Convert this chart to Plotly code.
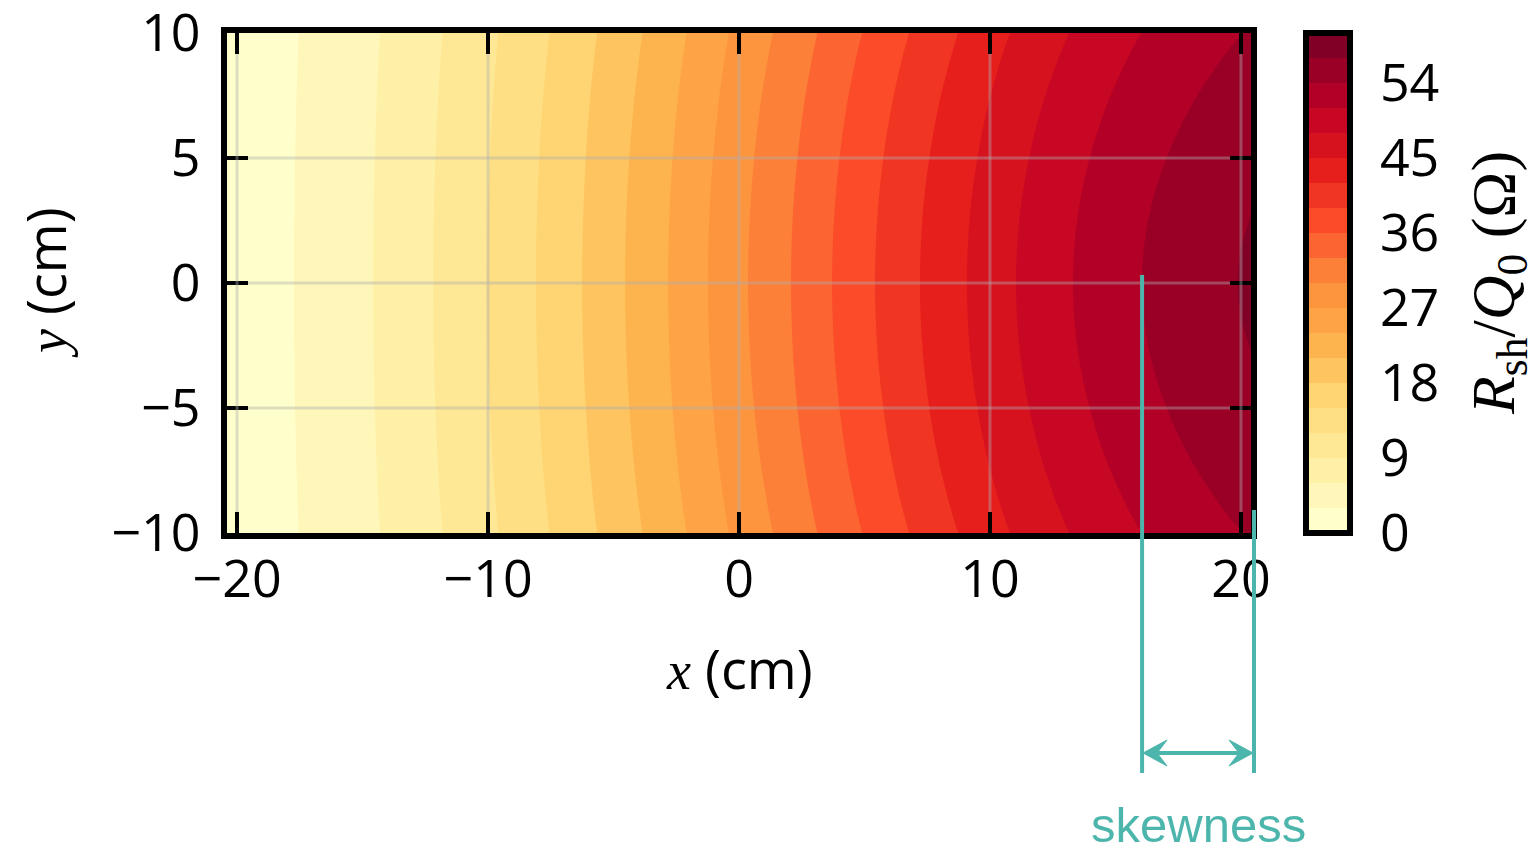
import numpy as np
import plotly.graph_objects as go
from plotly.colors import sample_colorscale

# ---- data ----
# x positions (cm) along y = 0 where Rsh/Q0 crosses each 3-ohm level (plus the two plot edges)
x_cm = [-20.4, -17.73, -14.58, -12.19, -10.04, -8.09, -6.25, -4.54, -2.83, -1.24,
        0.36, 2.07, 3.71, 5.42, 7.21, 9.08, 11.04, 13.31, 16.06, 19.88, 20.4]
# Rsh/Q0 (ohm) at those positions along y = 0
rsh_center = [0.9, 3, 6, 9, 12, 15, 18, 21, 24, 27,
              30, 33, 36, 39, 42, 45, 48, 51, 54, 57, 57.25]
y_cm = [-10, -9, -7, -5, -3, -1, 1, 3, 5, 7, 9, 10]
y_falloff = [0.945, 0.9555, 0.973, 0.986, 0.995, 0.9995,
             0.9995, 0.995, 0.986, 0.973, 0.9555, 0.945]

x_ticks = [-20, -10, 0, 10, 20]
y_ticks = [-10, -5, 0, 5, 10]
grid_x = [-20, -10, 0, 10, 20]
grid_y = [-5, 0, 5]
cbar_ticks = [0, 9, 18, 27, 36, 45, 54]
cbar_range = [0, 60]
level_start, level_end, level_step = 3, 57, 3
skew_level = 54
annot_text = "skewness"

z = np.outer(y_falloff, rsh_center)

# ---- layout geometry ----
FIG_W, FIG_H = 1539, 847
L, T, W, H = 227, 33, 1024, 500
X_RANGE = [-20.4, 20.4]
Y_RANGE = [-10, 10]
TEAL = "#4db6ac"
SANS = "Open Sans"
SERIF = "Liberation Serif"
CB_LEFT, CB_THICK = 1306, 44


def pxx(px):
    return (px - L) / W


def pxy(py):
    return (T + H - py) / H


def datax(x):
    return (x - X_RANGE[0]) / (X_RANGE[1] - X_RANGE[0])


colorscale = [[0.0, "#ffffcc"], [0.125, "#ffeda0"], [0.25, "#fed976"],
              [0.375, "#feb24c"], [0.5, "#fd8d3c"], [0.625, "#fc4e2a"],
              [0.75, "#e31a1c"], [0.875, "#bd0026"], [1.0, "#800026"]]

# stepped scale for the colour bar: one band per contour interval
n_bands = int(round((cbar_range[1] - cbar_range[0]) / level_step))
band_colors = sample_colorscale(colorscale, [k / (n_bands - 1) for k in range(n_bands)])
stepped = []
for k, c in enumerate(band_colors):
    stepped.append([k / n_bands, c])
    stepped.append([(k + 1) / n_bands, c])

fig = go.Figure()
fig.add_trace(go.Contour(
    x=x_cm, y=y_cm, z=z.tolist(),
    autocontour=False,
    contours=dict(start=level_start, end=level_end, size=level_step,
                  coloring="fill", showlines=False),
    line=dict(width=0),
    colorscale=colorscale,
    showscale=False,
    hoverinfo="skip",
))

fig.add_trace(go.Scatter(
    x=[None], y=[None], mode="markers", hoverinfo="skip", showlegend=False,
    marker=dict(
        color=[cbar_range[0]], cmin=cbar_range[0], cmax=cbar_range[1],
        colorscale=stepped, showscale=True,
        colorbar=dict(
            thickness=CB_THICK, thicknessmode="pixels",
            len=H, lenmode="pixels",
            x=pxx(CB_LEFT), xanchor="left", y=0.5, yanchor="middle",
            xpad=0, ypad=0,
            outlinewidth=6, outlinecolor="black",
            tickmode="array", tickvals=cbar_ticks,
            ticks="outside", ticklen=17, tickwidth=1, tickcolor="rgba(0,0,0,0)",
            ticklabeloverflow="allow",
            tickfont=dict(family=SANS, size=52, color="black"),
        ),
    ),
))

shapes = []
tick_px = 21
dx_tick = tick_px / W * (X_RANGE[1] - X_RANGE[0])
dy_tick = tick_px / H * (Y_RANGE[1] - Y_RANGE[0])
grid_color = "rgba(175,175,175,0.42)"
for gx in grid_x:
    shapes.append(dict(type="line", xref="x", yref="y", x0=gx, x1=gx,
                       y0=Y_RANGE[0] + dy_tick, y1=Y_RANGE[1] - dy_tick,
                       line=dict(color=grid_color, width=3), layer="above"))
for gy in grid_y:
    shapes.append(dict(type="line", xref="x", yref="y", y0=gy, y1=gy,
                       x0=X_RANGE[0] + dx_tick, x1=X_RANGE[1] - dx_tick,
                       line=dict(color=grid_color, width=3), layer="above"))

# colour-bar tick marks pointing into the bar from its right edge
cb_right = pxx(CB_LEFT + CB_THICK)
for v in cbar_ticks:
    if v == cbar_range[0]:
        continue
    yv = (v - cbar_range[0]) / (cbar_range[1] - cbar_range[0])
    shapes.append(dict(type="line", xref="paper", yref="paper",
                       x0=cb_right - 20 / W, x1=cb_right, y0=yv, y1=yv,
                       line=dict(color="black", width=4), layer="above"))

# skewness marker
x_skew = x_cm[rsh_center.index(skew_level)]
xl = datax(x_skew)
xr = 1 + 3 / W
line_bottom = pxy(773)
shapes.append(dict(type="line", xref="paper", yref="paper", x0=xl, x1=xl,
                   y0=pxy(275), y1=line_bottom, line=dict(color=TEAL, width=4), layer="above"))
shapes.append(dict(type="line", xref="paper", yref="paper", x0=xr, x1=xr,
                   y0=pxy(510), y1=line_bottom, line=dict(color=TEAL, width=4), layer="above"))
ay = pxy(753)
shapes.append(dict(type="line", xref="paper", yref="paper", x0=xl + 4 / W, x1=xr - 4 / W,
                   y0=ay, y1=ay, line=dict(color=TEAL, width=4), layer="above"))


def head(xtip, direction):
    hl, hw, notch = 24, 13, 14
    pts = [(xtip, ay),
           (xtip + direction * hl / W, ay + hw / H),
           (xtip + direction * notch / W, ay),
           (xtip + direction * hl / W, ay - hw / H)]
    return "M " + " L ".join(f"{a},{b}" for a, b in pts) + " Z"


for xt, d in [(xl + 1 / W, 1), (xr - 1 / W, -1)]:
    shapes.append(dict(type="path", xref="paper", yref="paper", path=head(xt, d),
                       fillcolor=TEAL, line=dict(color=TEAL, width=1), layer="above"))

annotations = [
    dict(text=f"<span style='font-family:{SERIF}'><i>x</i></span> (cm)",
         xref="paper", yref="paper", x=0.5, y=pxy(668), showarrow=False,
         xanchor="center", yanchor="middle", font=dict(family=SANS, size=54, color="black")),
    dict(text=f"<span style='font-family:{SERIF}'><i>y</i></span> (cm)",
         xref="paper", yref="paper", x=pxx(45), y=0.5, showarrow=False, textangle=-90,
         xanchor="center", yanchor="middle", font=dict(family=SANS, size=54, color="black")),
    dict(text="<i>R</i><sub>sh</sub>/<i>Q</i><sub>0</sub> (Ω)",
         xref="paper", yref="paper", x=pxx(1497), y=pxy(283), showarrow=False, textangle=-90,
         xanchor="center", yanchor="middle", font=dict(family=SERIF, size=62, color="black")),
    dict(text=annot_text, xref="paper", yref="paper", x=(xl + xr) / 2, y=pxy(825),
         showarrow=False, xanchor="center", yanchor="middle",
         font=dict(family="Liberation Sans", size=49, color=TEAL)),
]

axis_common = dict(ticks="inside", ticklen=tick_px, tickwidth=4, tickcolor="black",
                   showline=True, linewidth=6, linecolor="black", mirror="allticks",
                   showgrid=False, zeroline=False, ticklabeloverflow="allow",
                   tickfont=dict(family=SANS, size=52, color="black"))

fig.update_layout(
    width=FIG_W, height=FIG_H,
    margin=dict(l=L, r=FIG_W - L - W, t=T, b=FIG_H - T - H, autoexpand=False),
    paper_bgcolor="white", plot_bgcolor="white",
    xaxis=dict(range=X_RANGE, tickmode="array", tickvals=x_ticks, ticklabelstandoff=-4, **axis_common),
    yaxis=dict(range=Y_RANGE, tickmode="array", tickvals=y_ticks, ticklabelstandoff=10, **axis_common),
    shapes=shapes, annotations=annotations, showlegend=False,
)

fig.write_html("out.html")
